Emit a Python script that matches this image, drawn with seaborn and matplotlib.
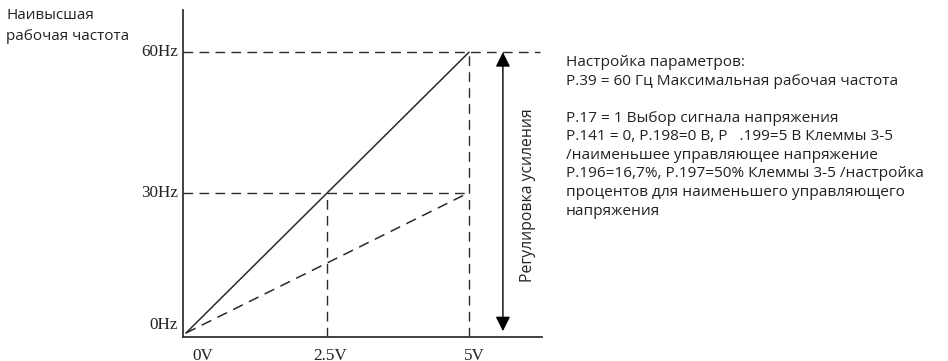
import matplotlib
matplotlib.use("Agg")
import matplotlib.pyplot as plt
import seaborn as sns
import pandas as pd

# Analog input (V) versus output frequency (Hz)
voltages = [0, 2.5, 5]
freq_full = [0, 30, 60]      # gain = 100 %
freq_gain = [0, 15, 30]      # gain = 50 %
x_tick_labels = ["0V", "2.5V", "5V"]
y_ticks = [0, 30, 60]
y_tick_labels = ["0Hz", "30Hz", "60Hz"]

top_left_text = "Наивысшая\nрабочая частота"
gain_text = "Регулировка усиления"
settings_text = (
    "Настройка параметров:\n"
    "P.39 = 60 Гц Максимальная рабочая частота\n"
    "\n"
    "P.17 = 1 Выбор сигнала напряжения\n"
    "P.141 = 0, P.198=0 В, P   .199=5 В Клеммы 3-5\n"
    "/наименьшее управляющее напряжение\n"
    "P.196=16,7%, P.197=50% Клеммы 3-5 /настройка\n"
    "процентов для наименьшего управляющего\n"
    "напряжения"
)

sns.set_theme(style="white")
plt.rcParams["font.family"] = ["Open Sans", "DejaVu Sans"]

fig = plt.figure(figsize=(9.48, 3.61), dpi=100)
ax = fig.add_axes([0.193, 0.0665, 0.3787, 0.9055])

line_color = "#2b2b2b"
df = pd.DataFrame({"V": voltages, "full": freq_full, "gain": freq_gain})
sns.lineplot(data=df, x="V", y="full", ax=ax, color=line_color, lw=1.1)
sns.lineplot(data=df, x="V", y="gain", ax=ax, color=line_color, lw=1.1,
             linestyle=(0, (7, 4.5)))

dash = dict(color=line_color, lw=1.0, linestyle=(0, (7, 4.5)))
x_max, x_mid = voltages[-1], voltages[1]
f_max, f_mid = freq_full[-1], freq_full[1]
ax.plot([-0.05, 6.25], [f_max, f_max], **dash)
ax.plot([-0.05, x_max], [f_mid, f_mid], **dash)
ax.plot([x_max, x_max], [-0.85, f_max], **dash)
ax.plot([x_mid, x_mid], [-0.85, f_mid], **dash)

ax.set_xlim(-0.053, 6.29)
ax.set_ylim(-0.85, 69)

# Gain adjustment double arrow
arrow_x = 5.6
ax.annotate("", xy=(arrow_x, f_max), xytext=(arrow_x, 0.4),
            arrowprops=dict(arrowstyle="<|-|>", color="black", lw=1.0,
                            mutation_scale=22, shrinkA=0, shrinkB=0))
ax.text(6.05, 29.5, gain_text, rotation=90, ha="center", va="center",
        fontsize=11.3, color="#222222")

for side in ["top", "right"]:
    ax.spines[side].set_visible(False)
for side in ["left", "bottom"]:
    ax.spines[side].set_color("#333333")
    ax.spines[side].set_linewidth(1.3)

ax.set_xticks([])
ax.set_yticks([])
ax.set_xlabel("")
ax.set_ylabel("")

serif = ["Liberation Serif", "DejaVu Serif"]
x_offsets = [17, 3, 5]
for v, lab, off in zip(voltages, x_tick_labels, x_offsets):
    ax.annotate(lab, xy=(v, 0), xycoords=("data", "axes fraction"),
                xytext=(off, -19), textcoords="offset pixels",
                ha="center", va="center", fontsize=12.3, family=serif,
                color="#222222")
y_offsets = [8, 0, 0]
for f, lab, off in zip(y_ticks, y_tick_labels, y_offsets):
    ax.annotate(lab, xy=(0, f), xycoords=("axes fraction", "data"),
                xytext=(-5, off), textcoords="offset pixels",
                ha="right", va="center", fontsize=12.3, family=serif,
                color="#222222")

fig.text(6 / 948, 1 - 8 / 361, top_left_text, ha="left", va="top",
         fontsize=11, color="#222222", linespacing=1.55)
fig.text(566 / 948, 1 - 55 / 361, settings_text, ha="left", va="top",
         fontsize=11.1, color="#222222", linespacing=1.325)

fig.savefig("out.png", dpi=100)
